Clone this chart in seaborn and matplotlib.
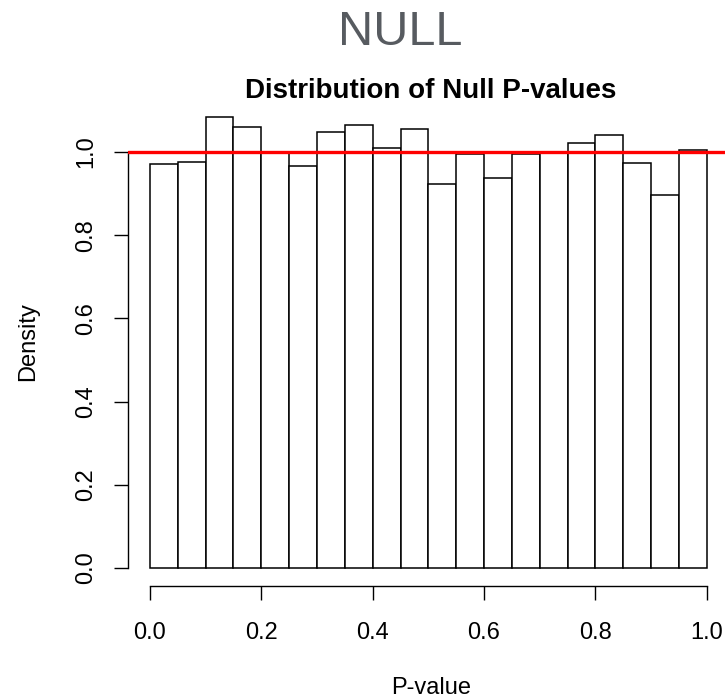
import numpy as np
import seaborn as sns
import matplotlib.pyplot as plt

# histogram of null p-values: 20 bins of width 0.05, density
bin_edges = [0.00, 0.05, 0.10, 0.15, 0.20, 0.25, 0.30, 0.35, 0.40, 0.45, 0.50,
             0.55, 0.60, 0.65, 0.70, 0.75, 0.80, 0.85, 0.90, 0.95, 1.00]
density = [0.972, 0.977, 1.084, 1.059, 1.000, 0.966, 1.048, 1.065, 1.010, 1.055,
           0.923, 0.996, 0.937, 0.996, 1.000, 1.022, 1.040, 0.974, 0.896, 1.004]
x_ticks = [0.0, 0.2, 0.4, 0.6, 0.8, 1.0]
y_ticks = [0.0, 0.2, 0.4, 0.6, 0.8, 1.0]

sns.set_style("ticks", rc={"text.color": "black", "axes.labelcolor": "black",
                           "xtick.color": "black", "ytick.color": "black",
                           "axes.edgecolor": "black"})
plt.rcParams['font.family'] = ['Liberation Sans', 'DejaVu Sans']

mids = [(a + b) / 2 for a, b in zip(bin_edges[:-1], bin_edges[1:])]

fig = plt.figure(figsize=(7.25, 7), dpi=100)
ax = fig.add_axes([127.7 / 725, (700 - 586) / 700, (729 - 127.7) / 725, (586 - 99) / 700])

sns.histplot(x=mids, weights=density, bins=bin_edges, stat="count",
             color="white", edgecolor="black", linewidth=1.1, alpha=1, ax=ax)
ax.axhline(1.0, color="#ff0000", lw=2.4, zorder=5)

# R-like extended limits (4%)
ymax = max(density)
ax.set_xlim(-0.04, 1.04)
ax.set_ylim(-0.04 * ymax, ymax * 1.04)

for s in ["top", "right"]:
    ax.spines[s].set_visible(False)
ax.spines["left"].set_bounds(0, 1)
ax.spines["bottom"].set_bounds(0, 1)
ax.spines["left"].set_linewidth(1.0)
ax.spines["bottom"].set_linewidth(1.0)

ax.set_xticks(x_ticks)
ax.set_xticklabels([f"{t:.1f}" for t in x_ticks])
ax.set_yticks(y_ticks)
ax.set_yticklabels([f"{t:.1f}" for t in y_ticks], rotation=90, va="center")
ax.tick_params(axis="both", length=10, width=1.0, labelsize=17, color="black",
               labelcolor="black")
ax.tick_params(axis="x", pad=16)
ax.tick_params(axis="y", pad=12)

ax.set_xlabel("")
ax.set_ylabel("")
fig.text(431 / 725, 1 - 688 / 700, "P-value", ha="center", va="center", fontsize=17)
fig.text(28 / 725, 1 - 342 / 700, "Density", ha="center", va="center", fontsize=17,
         rotation=90)

fig.text(431 / 725, 1 - 98 / 700, "Distribution of Null P-values", ha="center",
         va="baseline", fontsize=20, fontweight="bold")
fig.text(400 / 725, 1 - 45 / 700, "NULL", ha="center", va="baseline", fontsize=35,
         color="#575b60")

fig.savefig("out.png", dpi=100)
